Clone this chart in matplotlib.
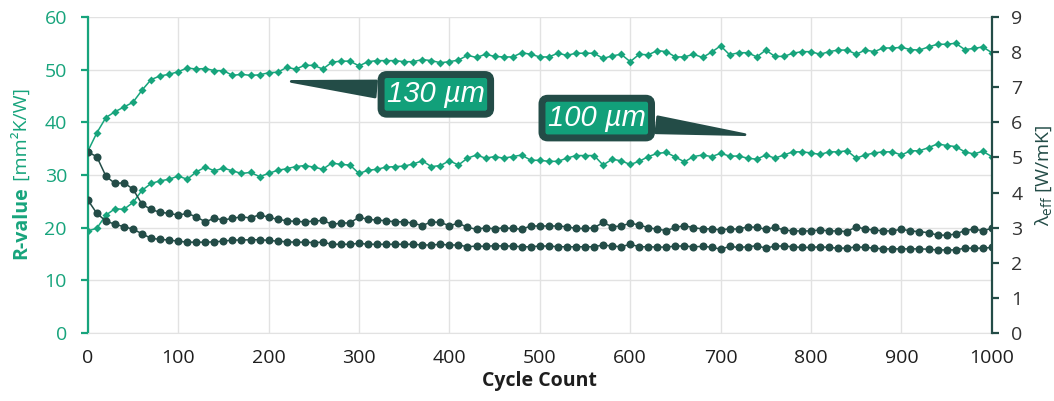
import numpy as np
import matplotlib
matplotlib.use("Agg")
import matplotlib.pyplot as plt

# data (one point every 10 cycles)
cycles = np.arange(0, 1001, 10)

r_130 = [34.5, 38.0, 40.9, 42.0, 42.9, 43.8, 46.1, 48.1, 48.8, 49.1,
         49.6, 50.3, 50.1, 50.2, 49.8, 49.8, 48.9, 49.1, 48.9, 49.0,
         49.4, 49.5, 50.4, 50.1, 50.8, 50.8, 50.1, 51.4, 51.6, 51.6,
         50.7, 51.5, 51.7, 51.7, 51.7, 51.5, 51.5, 51.9, 51.7, 51.3,
         51.5, 51.8, 52.7, 52.3, 52.9, 52.5, 52.4, 52.4, 53.2, 52.9,
         52.4, 52.4, 53.1, 52.7, 53.1, 53.1, 53.1, 52.1, 52.6, 52.9,
         51.5, 52.9, 52.8, 53.6, 53.4, 52.4, 52.4, 52.9, 52.3, 53.3,
         54.5, 52.8, 53.2, 53.2, 52.4, 53.7, 52.5, 52.5, 53.1, 53.4,
         53.4, 52.9, 53.4, 53.7, 53.7, 52.9, 53.7, 53.4, 54.1, 54.1,
         54.2, 53.8, 53.7, 54.3, 54.8, 54.8, 55.0, 53.8, 54.0, 54.3,
         53.2]

r_100 = [19.4, 19.9, 22.4, 23.6, 23.5, 24.8, 27.1, 28.4, 28.9, 29.2,
         29.8, 29.2, 30.6, 31.5, 30.8, 31.3, 30.8, 30.3, 30.5, 29.7,
         30.3, 30.9, 31.2, 31.6, 31.8, 31.5, 31.1, 32.3, 32.0, 31.9,
         30.3, 30.9, 31.1, 31.5, 31.6, 31.7, 32.1, 32.7, 31.6, 31.8,
         32.7, 31.9, 33.2, 33.8, 33.2, 33.5, 33.2, 33.5, 33.8, 32.8,
         32.8, 32.6, 32.6, 33.2, 33.7, 33.7, 33.7, 31.9, 33.0, 32.7,
         32.0, 32.6, 33.5, 34.1, 34.3, 33.4, 32.5, 33.5, 33.8, 33.5,
         34.1, 33.6, 33.6, 33.2, 33.0, 33.8, 33.2, 33.8, 34.4, 34.4,
         34.2, 33.9, 34.4, 34.4, 34.6, 33.2, 33.8, 34.2, 34.4, 34.4,
         33.8, 34.6, 34.6, 35.2, 35.9, 35.6, 35.4, 34.4, 34.0, 34.5,
         33.5]

lam_100 = [5.16, 5.02, 4.47, 4.26, 4.28, 4.10, 3.67, 3.52, 3.44, 3.41,
           3.36, 3.41, 3.31, 3.17, 3.27, 3.22, 3.27, 3.31, 3.28, 3.37,
           3.30, 3.24, 3.20, 3.18, 3.17, 3.19, 3.21, 3.10, 3.13, 3.14,
           3.30, 3.24, 3.22, 3.20, 3.17, 3.17, 3.13, 3.06, 3.17, 3.15,
           3.06, 3.13, 3.01, 2.96, 3.00, 2.97, 3.00, 2.98, 2.96, 3.05,
           3.05, 3.05, 3.05, 3.03, 2.98, 2.98, 3.00, 3.15, 3.03, 3.05,
           3.13, 3.08, 3.00, 2.96, 2.92, 3.01, 3.06, 3.00, 2.97, 2.97,
           2.94, 2.97, 2.96, 3.03, 3.01, 2.96, 3.01, 2.94, 2.91, 2.91,
           2.91, 2.94, 2.91, 2.91, 2.89, 3.03, 2.96, 2.94, 2.91, 2.91,
           2.96, 2.91, 2.89, 2.86, 2.79, 2.79, 2.82, 2.92, 2.96, 2.92,
           2.98]

lam_130 = [3.79, 3.41, 3.19, 3.10, 3.03, 2.96, 2.83, 2.70, 2.67, 2.65,
           2.62, 2.59, 2.59, 2.59, 2.60, 2.62, 2.65, 2.65, 2.66, 2.66,
           2.64, 2.62, 2.60, 2.59, 2.59, 2.58, 2.59, 2.53, 2.53, 2.53,
           2.56, 2.53, 2.53, 2.53, 2.53, 2.53, 2.53, 2.51, 2.51, 2.53,
           2.51, 2.51, 2.46, 2.48, 2.47, 2.49, 2.48, 2.48, 2.46, 2.46,
           2.48, 2.48, 2.46, 2.46, 2.46, 2.46, 2.46, 2.51, 2.48, 2.46,
           2.53, 2.46, 2.46, 2.45, 2.45, 2.48, 2.48, 2.46, 2.47, 2.45,
           2.39, 2.47, 2.44, 2.46, 2.49, 2.42, 2.48, 2.48, 2.46, 2.44,
           2.44, 2.46, 2.44, 2.42, 2.42, 2.46, 2.44, 2.42, 2.40, 2.40,
           2.40, 2.40, 2.40, 2.39, 2.37, 2.37, 2.37, 2.42, 2.42, 2.42,
           2.44]

GREEN = "#17a47c"
DARK = "#234c47"
GRID = "#e2e2e2"
FS = 14

plt.rcParams["font.family"] = ["Open Sans", "DejaVu Sans"]

fig = plt.figure(figsize=(10.54, 4.01), dpi=100)
ax = fig.add_axes([0.0833, 0.169, 0.8577, 0.789])
ax2 = ax.twinx()

# R-value (left axis)
ax.plot(cycles, r_130, color=GREEN, lw=1.1, marker="D", ms=4.3, mec="none", zorder=3)
ax.plot(cycles, r_100, color=GREEN, lw=1.1, marker="D", ms=4.3, mec="none", zorder=3)

# lambda_eff (right axis)
ax2.plot(cycles, lam_100, color=DARK, lw=1.1, marker="o", ms=5.8, mec="none")
ax2.plot(cycles, lam_130, color=DARK, lw=1.1, marker="o", ms=5.8, mec="none")

ax.set_xlim(0, 1000)
ax.set_ylim(0, 60)
ax2.set_ylim(0, 9)
ax.set_xticks(np.arange(0, 1001, 100))
ax.set_yticks(np.arange(0, 61, 10))
ax2.set_yticks(np.arange(0, 10, 1))

ax.grid(True, color=GRID, lw=1)
ax.set_axisbelow(True)

ax.spines["top"].set_visible(False)
ax2.spines["top"].set_visible(False)
ax.spines["bottom"].set_color(GRID)
ax2.spines["bottom"].set_visible(False)
ax.spines["right"].set_visible(False)
ax2.spines["left"].set_visible(False)
ax.spines["left"].set_color(GREEN)
ax.spines["left"].set_linewidth(1.6)
ax2.spines["right"].set_color(DARK)
ax2.spines["right"].set_linewidth(1.6)

ax.tick_params(axis="x", length=0, labelsize=FS, labelcolor="#1e1e1e", pad=11)
ax.tick_params(axis="y", colors=GREEN, labelsize=FS, length=5, width=1.6, pad=10)
ax2.tick_params(axis="y", colors=DARK, labelcolor="#333333", labelsize=FS,
                length=5, width=1.6, pad=9)

ax.set_xlabel("Cycle Count", fontsize=FS, fontweight="bold", color="#1e1e1e", labelpad=3)

# left label: bold part + normal part
t1 = ax.text(-0.068, 0.235, "R-value", transform=ax.transAxes, rotation=90,
             rotation_mode="anchor", ha="left", va="baseline",
             fontsize=FS, fontweight="bold", color=GREEN)
ax.annotate(" [mm\u00b2K/W]", xy=(-0.068, 1), xycoords=("axes fraction", t1),
            rotation=90, rotation_mode="anchor", ha="left", va="baseline",
            fontsize=FS, color=GREEN)

ax2.set_ylabel(r"λ$_\mathregular{eff}$ [W/mK]", fontsize=FS, color=DARK, labelpad=8)

# callouts
box = dict(boxstyle="round,pad=0.2,rounding_size=0.2", fc="#12a07a", ec=DARK, lw=5)
wedge = dict(arrowstyle="wedge,tail_width=0.55,shrink_factor=0.5", fc=DARK, ec=DARK, lw=2)
ax.annotate("130 \u00b5m", xy=(222, 47.8), xytext=(385, 45.3), textcoords="data",
            ha="center", va="center", fontsize=21, style="italic", color="white",
            family="Liberation Sans", bbox=box, arrowprops=wedge, zorder=5)
ax.annotate("100 \u00b5m", xy=(730, 37.6), xytext=(563, 40.8), textcoords="data",
            ha="center", va="center", fontsize=21, style="italic", color="white",
            family="Liberation Sans", bbox=box, arrowprops=wedge, zorder=5)

fig.savefig("out.png", dpi=100)
